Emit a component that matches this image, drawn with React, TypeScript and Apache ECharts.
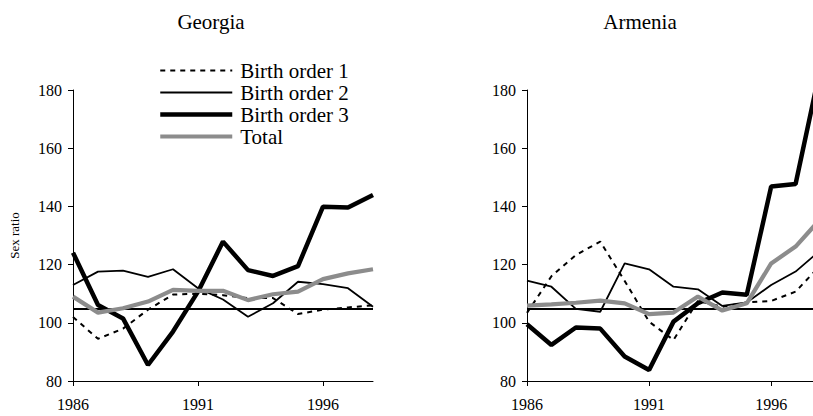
import React, { useEffect, useRef } from "react";
import * as echarts from "echarts";

const years = ["1986","1987","1988","1989","1990","1991","1992","1993","1994","1995","1996","1997","1998"];
const seriesNames = ["Birth order 1", "Birth order 2", "Birth order 3", "Total"];
const panelTitles = ["Georgia", "Armenia"];
const referenceValue = 105;

const georgiaBO1 = [102, 94.5, 98, 104.5, 109.7, 110, 109.5, 108.5, 108.5, 103, 104.5, 105.3, 106];
const georgiaBO2 = [113, 117.6, 117.9, 115.8, 118.4, 111.9, 108, 102.1, 106.7, 114.1, 113.3, 111.9, 105.5];
const georgiaBO3 = [124.1, 106.1, 101.5, 85.5, 97, 110.7, 127.9, 118.1, 116.1, 119.5, 139.9, 139.6, 143.9];
const georgiaTotal = [109, 103.5, 105, 107.3, 111.3, 111, 111, 107.8, 109.8, 110.7, 115, 117, 118.4];

const armeniaBO1 = [103.4, 116, 123.3, 127.9, 114.4, 100.4, 94.1, 107.5, 105.5, 107, 107.5, 110.7, 119.6];
const armeniaBO2 = [114.5, 112.4, 104.8, 103.8, 120.4, 118.4, 112.4, 111.5, 105.8, 107, 113, 117.6, 124.8];
const armeniaBO3 = [99.5, 92.4, 98.4, 98, 88.4, 83.8, 100.4, 106.7, 110.4, 109.6, 146.8, 147.7, 187];
const armeniaTotal = [105.9, 106.3, 106.9, 107.6, 106.7, 103, 103.5, 109, 104.2, 106.7, 120.4, 126.2, 135.5];

const FONT = "Liberation Serif";

const styles: any = {
  "Birth order 1": { color: "#000", width: 2, type: [5, 5] },
  "Birth order 2": { color: "#000", width: 1.8, type: "solid" },
  "Birth order 3": { color: "#000", width: 4.5, type: "solid" },
  "Total": { color: "#8c8c8c", width: 4.2, type: "solid" },
};

export default function App() {
  const ref = useRef<HTMLDivElement>(null);
  useEffect(() => {
    if (!ref.current) return;
    const chart = echarts.init(ref.current, undefined, { renderer: "svg" });

    const panels = [
      { data: [georgiaBO1, georgiaBO2, georgiaBO3, georgiaTotal] },
      { data: [armeniaBO1, armeniaBO2, armeniaBO3, armeniaTotal] },
    ];

    const grids = [
      { left: 73, top: 90, width: 300, height: 291 },
      { left: 527, top: 90, width: 293, height: 291 },
    ];

    const xAxes = grids.map((_, i) => ({
      type: "category",
      gridIndex: i,
      data: years,
      boundaryGap: false,
      axisLine: { lineStyle: { color: "#000", width: 1 } },
      axisTick: { interval: 4, length: 5, lineStyle: { color: "#000" } },
      axisLabel: { interval: 4, color: "#000", fontFamily: FONT, fontSize: 16, margin: 15 },
      splitLine: { show: false },
    }));

    const yAxes = grids.map((_, i) => ({
      type: "value",
      gridIndex: i,
      min: 80,
      max: 180,
      interval: 20,
      name: i === 0 ? "Sex ratio" : "",
      nameLocation: "middle",
      nameGap: 52,
      nameRotate: 90,
      nameTextStyle: { color: "#000", fontFamily: FONT, fontSize: 13 },
      axisLine: { show: true, lineStyle: { color: "#000", width: 1 } },
      axisTick: { show: true, length: 5, lineStyle: { color: "#000" } },
      axisLabel: { color: "#000", fontFamily: FONT, fontSize: 16, margin: 11 },
      splitLine: { show: false },
    }));

    const drawOrder = [0, 1, 3, 2];
    const series: any[] = [];
    panels.forEach((p, pi) => {
      drawOrder.forEach((si) => {
        const name = seriesNames[si];
        const st = styles[name];
        const s: any = {
          type: "line",
          name,
          xAxisIndex: pi,
          yAxisIndex: pi,
          data: p.data[si],
          symbol: "none",
          showSymbol: false,
          lineStyle: { color: st.color, width: st.width, type: st.type },
          itemStyle: { color: st.color },
          z: 2 + si,
        };
        if (si === 1) {
          s.markLine = {
            silent: true,
            symbol: "none",
            label: { show: false },
            lineStyle: { color: "#000", width: 1.8, type: "solid" },
            data: [{ yAxis: referenceValue }],
          };
        }
        series.push(s);
      });
    });

    chart.setOption({
      animation: false,
      backgroundColor: "#fff",
      textStyle: { fontFamily: FONT },
      grid: grids,
      xAxis: xAxes,
      yAxis: yAxes,
      legend: {
        left: 158,
        top: 60,
        padding: 0,
        orient: "vertical",
        itemWidth: 72,
        itemHeight: 14,
        itemGap: 1,
        selectedMode: false,
        itemStyle: { opacity: 0 },
        textStyle: { color: "#000", fontFamily: FONT, fontSize: 21, padding: [0, 0, 0, 3] },
        data: seriesNames.map((n) => ({
          name: n,
          itemStyle: { opacity: 0 },
          lineStyle: { color: styles[n].color, width: styles[n].width, type: styles[n].type },
        })),
      },
      graphic: panelTitles.map((t, i) => ({
        type: "text",
        x: i === 0 ? 211 : 640,
        y: 22,
        style: {
          text: t,
          textAlign: "center",
          textVerticalAlign: "middle",
          fontFamily: FONT,
          fontSize: 21,
          fill: "#000",
        },
      })),
      series,
    });

    return () => chart.dispose();
  }, []);

  return (
    <div style={{ position: "fixed", left: 0, top: 0, width: 813, height: 416, overflow: "hidden", background: "#fff" }}>
      <div ref={ref} style={{ width: 830, height: 416 }} />
    </div>
  );
}
